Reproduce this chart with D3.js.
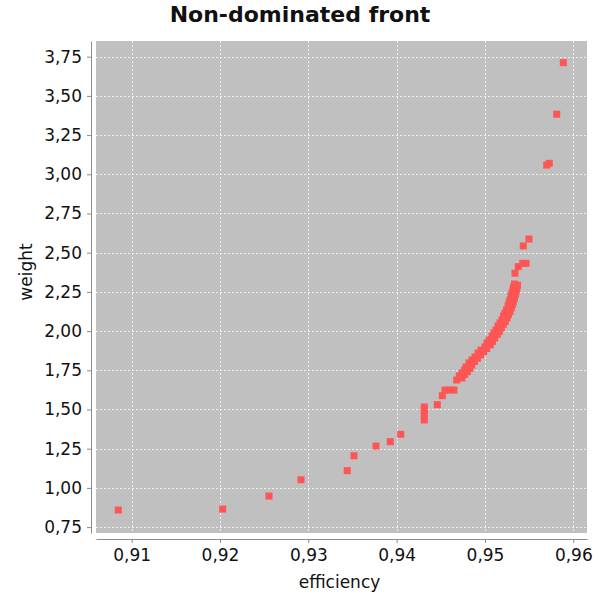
<!DOCTYPE html>
<html>
<head>
<meta charset="utf-8">
<script src="https://cdn.jsdelivr.net/npm/d3@7"></script>
<style>
  html, body { margin: 0; padding: 0; background: #ffffff; }
  svg { display: block; }
  text { font-family: "DejaVu Sans", "Noto Sans", sans-serif; fill: #111; }
</style>
</head>
<body>
<svg id="chart" width="610" height="596"></svg>
<script>
const title = "Non-dominated front";
const xLabel = "efficiency";
const yLabel = "weight";
const xTicks = [0.91, 0.92, 0.93, 0.94, 0.95, 0.96];
const yTicks = [0.75, 1.00, 1.25, 1.50, 1.75, 2.00, 2.25, 2.50, 2.75, 3.00, 3.25, 3.50, 3.75];

const efficiency = [
  0.90848, 0.92030, 0.92555, 0.92917, 0.93441, 0.93517, 0.93766, 0.93928, 0.94046,
  0.94313, 0.94313, 0.94313, 0.94313, 0.94460, 0.94517, 0.94547, 0.94596, 0.94649,
  0.94680, 0.94709, 0.94740, 0.94770, 0.94785, 0.94819, 0.94853, 0.94887, 0.94921,
  0.94955, 0.95000, 0.95023, 0.95046, 0.95080, 0.95102, 0.95125, 0.95148, 0.95170,
  0.95193, 0.95210, 0.95227, 0.95244, 0.95261, 0.95272, 0.95283, 0.95295, 0.95306,
  0.95317, 0.95323, 0.95334,
  0.94740, 0.94770, 0.94800, 0.94830, 0.94850, 0.94880, 0.94915, 0.94950, 0.94985,
  0.95020, 0.95060, 0.95085, 0.95110, 0.95140, 0.95162, 0.95185, 0.95208, 0.95230,
  0.95250, 0.95266, 0.95283, 0.95298, 0.95312, 0.95322, 0.95333, 0.95344, 0.95352,
  0.95360, 0.95368,
  0.95340, 0.95377, 0.95427, 0.95465, 0.95434, 0.95498, 0.95699, 0.95728, 0.95812, 0.95887
];
const weight = [
  0.859, 0.865, 0.948, 1.052, 1.110, 1.205, 1.267, 1.295, 1.342,
  1.433, 1.465, 1.497, 1.516, 1.531, 1.588, 1.624, 1.624, 1.624,
  1.688, 1.714, 1.733, 1.752, 1.771, 1.797, 1.816, 1.835, 1.860,
  1.879, 1.899, 1.924, 1.943, 1.969, 1.988, 2.007, 2.033, 2.052,
  2.071, 2.096, 2.115, 2.135, 2.160, 2.179, 2.198, 2.224, 2.243,
  2.262, 2.281, 2.300,
  1.701, 1.723, 1.742, 1.762, 1.784, 1.806, 1.826, 1.848, 1.870,
  1.889, 1.912, 1.934, 1.956, 1.979, 1.998, 2.020, 2.043, 2.062,
  2.084, 2.106, 2.125, 2.148, 2.170, 2.189, 2.211, 2.234, 2.253,
  2.272, 2.292,
  2.369, 2.411, 2.432, 2.432, 2.543, 2.587, 3.059, 3.070, 3.383, 3.712
];

const svg = d3.select("#chart");
const plot = { left: 96, right: 587, top: 41, bottom: 533 };

const x = d3.scaleLinear().domain([0.90596, 0.96155]).range([plot.left, plot.right]);
const y = d3.scaleLinear().domain([0.7124, 3.850]).range([plot.bottom, plot.top]);

// plot background
svg.append("rect")
  .attr("x", plot.left).attr("y", plot.top)
  .attr("width", plot.right - plot.left).attr("height", plot.bottom - plot.top)
  .attr("fill", "#c0c0c0");

// gridlines
const grid = svg.append("g").attr("stroke", "#ffffff").attr("stroke-opacity", 0.75)
  .attr("stroke-width", 1).attr("stroke-dasharray", "2,2");
grid.selectAll("line.v").data(xTicks).join("line")
  .attr("x1", d => Math.round(x(d)) + 0.5).attr("x2", d => Math.round(x(d)) + 0.5)
  .attr("y1", plot.top).attr("y2", plot.bottom);
grid.selectAll("line.h").data(yTicks).join("line")
  .attr("y1", d => Math.round(y(d)) + 0.5).attr("y2", d => Math.round(y(d)) + 0.5)
  .attr("x1", plot.left).attr("x2", plot.right);

// axes
const fmt = d => d3.format(".2f")(d).replace(".", ",");
const xAxis = d3.axisBottom(x).tickValues(xTicks).tickFormat(fmt).tickSizeInner(4).tickSizeOuter(0).tickPadding(6);
const yAxis = d3.axisLeft(y).tickValues(yTicks).tickFormat(fmt).tickSizeInner(4).tickSizeOuter(0).tickPadding(5);

const gx = svg.append("g").attr("transform", `translate(0,${plot.bottom + 6})`).call(xAxis);
const gy = svg.append("g").attr("transform", `translate(${plot.left - 5},0)`).call(yAxis);
[gx, gy].forEach(g => {
  g.select(".domain").attr("stroke", "#8a8a8a");
  g.selectAll(".tick line").attr("stroke", "#8a8a8a");
  g.selectAll(".tick text").attr("font-size", "17px").attr("fill", "#111")
    .attr("font-family", "DejaVu Sans, sans-serif");
});

// points
svg.append("g").selectAll("rect").data(efficiency.map((e, i) => [e, weight[i]])).join("rect")
  .attr("x", d => x(d[0]) - 3.5).attr("y", d => y(d[1]) - 3.5)
  .attr("width", 7).attr("height", 7)
  .attr("fill", "#ff5555");

// title
svg.append("text").attr("x", 300).attr("y", 22).attr("text-anchor", "middle")
  .attr("font-size", "22px").attr("font-weight", "bold").text(title);

// axis labels
svg.append("text").attr("x", (plot.left + plot.right) / 2 - 2).attr("y", 588)
  .attr("text-anchor", "middle").attr("font-size", "17px").text(xLabel);
svg.append("text").attr("transform", "translate(32,272) rotate(-90)")
  .attr("text-anchor", "middle").attr("font-size", "17px").text(yLabel);
</script>
</body>
</html>
